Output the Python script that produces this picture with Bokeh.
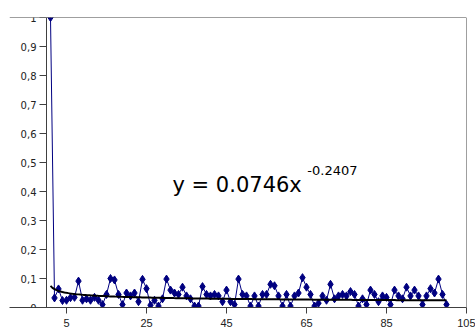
from bokeh.plotting import figure
from bokeh.models import Range1d, LinearAxis, FixedTicker, Span, Label
from bokeh.embed import file_html
from bokeh.resources import INLINE
import numpy as np

# ---- data ----
x_vals = list(range(1, 101))
y_vals = [
    1.000, 0.033, 0.064, 0.024, 0.025, 0.034, 0.035, 0.091, 0.025, 0.030,
    0.025, 0.035, 0.025, 0.010, 0.045, 0.100, 0.095, 0.045, 0.010, 0.050,
    0.040, 0.050, 0.020, 0.097, 0.065, 0.008, 0.025, 0.005, 0.030, 0.098,
    0.060, 0.050, 0.045, 0.070, 0.040, 0.030, 0.005, 0.005, 0.072, 0.045,
    0.040, 0.045, 0.040, 0.020, 0.060, 0.020, 0.010, 0.098, 0.045, 0.040,
    0.005, 0.040, 0.005, 0.045, 0.045, 0.080, 0.075, 0.040, 0.005, 0.045,
    0.005, 0.040, 0.050, 0.103, 0.070, 0.045, 0.005, 0.015, 0.040, 0.025,
    0.080, 0.030, 0.040, 0.045, 0.040, 0.055, 0.045, 0.005, 0.030, 0.010,
    0.060, 0.045, 0.020, 0.040, 0.035, 0.010, 0.060, 0.040, 0.030, 0.070,
    0.040, 0.060, 0.040, 0.010, 0.040, 0.065, 0.050, 0.098, 0.045, 0.010,
]
trend_coef = 0.0746
trend_exp = -0.2407
equation_text = "y = 0.0746x"
exponent_text = "-0.2407"
x_ticks = [5, 25, 45, 65, 85, 105]
y_ticks = [0, 0.1, 0.2, 0.3, 0.4, 0.5, 0.6, 0.7, 0.8, 0.9, 1]
y_tick_labels = ["0", "0,1", "0,2", "0,3", "0,4", "0,5", "0,6", "0,7", "0,8", "0,9", "1"]

trend_x = np.linspace(1, 100, 200)
trend_y = trend_coef * trend_x ** trend_exp

axis_col = "#404040"
navy = "#000080"

p = figure(width=475, height=332, output_backend="svg", toolbar_location=None,
           x_range=Range1d(-9.25, 105), y_range=Range1d(0, 1),
           x_axis_location=None, y_axis_location=None,
           min_border_left=9, min_border_right=9, min_border_top=17,
           min_border_bottom=25, background_fill_color="white",
           border_fill_color="white")
p.outline_line_color = None
p.xgrid.visible = False
p.ygrid.visible = False

xaxis = LinearAxis(ticker=FixedTicker(ticks=x_ticks))
xaxis.axis_line_color = axis_col
xaxis.major_tick_line_color = axis_col
xaxis.major_tick_in = 0
xaxis.major_tick_out = 6
xaxis.minor_tick_line_color = None
xaxis.major_label_standoff = 5
xaxis.major_label_text_font = "Liberation Sans"
xaxis.major_label_text_font_size = "11px"
xaxis.major_label_text_color = "#222222"
p.add_layout(xaxis, "below")

yaxis = LinearAxis(ticker=FixedTicker(ticks=y_ticks), fixed_location=0)
yaxis.major_label_overrides = {t: s for t, s in zip(y_ticks, y_tick_labels)}
yaxis.axis_line_color = axis_col
yaxis.major_tick_line_color = axis_col
yaxis.major_tick_in = 0
yaxis.major_tick_out = 7
yaxis.minor_tick_line_color = None
yaxis.major_label_standoff = 3
yaxis.major_label_text_font = "DejaVu Sans"
yaxis.major_label_text_font_size = "10px"
yaxis.major_label_text_color = "#222222"
p.add_layout(yaxis, "left")

p.add_layout(Span(location=1, dimension="width", line_color=axis_col, line_width=1))
p.add_layout(Span(location=105, dimension="height", line_color=axis_col, line_width=1))

p.line(x_vals, y_vals, line_color=navy, line_width=1)
p.scatter(x_vals, y_vals, marker="diamond", size=8, fill_color=navy, line_color=navy)
p.line(trend_x, trend_y, line_color="black", line_width=2)

p.add_layout(Label(x=31.5, y=0.421, text=equation_text, text_font="DejaVu Sans",
                   text_font_size="21px", text_color="black", text_baseline="alphabetic"))
p.add_layout(Label(x=65.2, y=0.474, text=exponent_text, text_font="DejaVu Sans",
                   text_font_size="13px", text_color="black", text_baseline="alphabetic"))

open("out.html", "w").write(file_html(p, INLINE))
